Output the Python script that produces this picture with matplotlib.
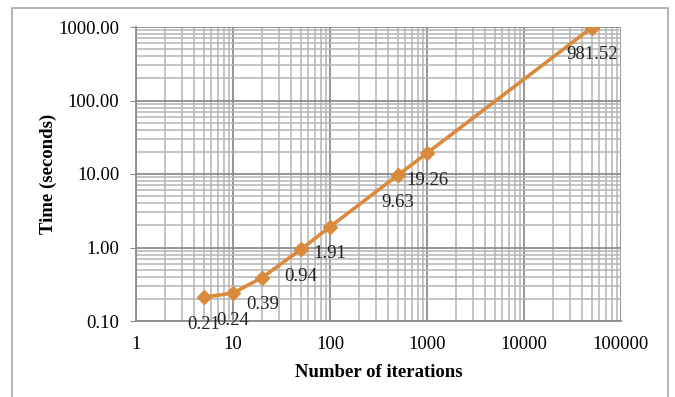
import matplotlib.pyplot as plt
from matplotlib.patches import Rectangle
from matplotlib.ticker import LogLocator, FixedLocator, FuncFormatter, NullFormatter

# values
iterations = [5, 10, 20, 50, 100, 500, 1000, 50000]
times = [0.21, 0.24, 0.39, 0.94, 1.91, 9.63, 19.26, 981.52]
x_ticks = [1, 10, 100, 1000, 10000, 100000]
y_ticks = [0.1, 1, 10, 100, 1000]

LINE_COLOR = '#DA8A3C'

plt.rcParams['font.family'] = ['Liberation Serif', 'DejaVu Serif']

fig = plt.figure(figsize=(6.75, 3.97), dpi=100)
ax = fig.add_axes([136 / 675, 1 - 321 / 397, 485 / 675, 294 / 397])

# light frame around the whole chart (open at the bottom)
fig.patches.append(Rectangle((12 / 675, -0.05), 656 / 675, 1 - 8 / 397 + 0.05,
                             transform=fig.transFigure, fill=False,
                             edgecolor='#A6A6A6', linewidth=1.2))

ax.plot(iterations, times, color=LINE_COLOR, linewidth=2.6,
        marker='D', markersize=7, zorder=3)
for x, y in zip(iterations, times):
    ax.annotate(f'{y:.2f}', (x, y), xytext=(0, -19.5), textcoords='offset points',
                ha='center', va='center', fontsize=13.5, color='#222222')

ax.set_xscale('log')
ax.set_yscale('log')
ax.set_xlim(1, 100000)
ax.set_ylim(0.1, 1000)

ax.xaxis.set_major_locator(FixedLocator(x_ticks))
ax.xaxis.set_major_formatter(FuncFormatter(lambda v, p: f'{v:.0f}'))
ax.xaxis.set_minor_locator(LogLocator(base=10, subs=range(2, 10)))
ax.xaxis.set_minor_formatter(NullFormatter())
ax.yaxis.set_major_locator(FixedLocator(y_ticks))
ax.yaxis.set_major_formatter(FuncFormatter(lambda v, p: f'{v:.2f}'))
ax.yaxis.set_minor_locator(LogLocator(base=10, subs=range(2, 10)))
ax.yaxis.set_minor_formatter(NullFormatter())

ax.grid(which='major', color='#8C8C8C', linewidth=1.3)
ax.grid(which='minor', color='#B4B4B4', linewidth=1.1)
ax.set_axisbelow(True)

for side in ['top', 'right']:
    ax.spines[side].set_visible(False)
ax.spines['left'].set_color('#8C8C8C')
ax.spines['bottom'].set_color('#8C8C8C')
ax.spines['left'].set_linewidth(1.3)
ax.spines['bottom'].set_linewidth(1.3)

ax.tick_params(axis='y', which='major', length=4, color='#8C8C8C',
               labelsize=13.5, pad=8)
ax.tick_params(axis='x', which='major', length=0, labelsize=13.5, pad=11)
ax.tick_params(which='minor', length=0)

ax.set_xlabel('Number of iterations', fontsize=13.5, fontweight='bold', labelpad=8)
ax.set_ylabel('Time (seconds)', fontsize=13.5, fontweight='bold', va='center')
ax.yaxis.set_label_coords(-88 / 485, 0.5)

fig.savefig('out.png', dpi=100)
